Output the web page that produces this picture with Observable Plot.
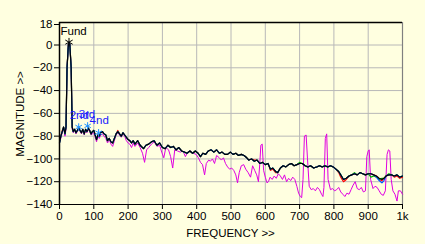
<!DOCTYPE html>
<html>
<head>
<meta charset="utf-8">
<script src="https://cdn.jsdelivr.net/npm/d3@7"></script>
<script src="https://cdn.jsdelivr.net/npm/@observablehq/plot@0.6"></script>
<style>
  html, body { margin: 0; padding: 0; background: #ffffe0; }
</style>
</head>
<body>
<div id="chart"></div>
<script>
// Axis ticks and titles
const yTicks = [18, 0, -20, -40, -60, -80, -100, -120, -140];
const xTicks = [0, 100, 200, 300, 400, 500, 600, 700, 800, 900, 1000];
const xTickLabels = ["0", "100", "200", "300", "400", "500", "600", "700", "800", "900", "1k"];
const xTitle = "FREQUENCY >>";
const yTitle = "MAGNITUDE >>";

// Frequencies shared by the black / red / green / blue traces
const freqA = [
  0,4,8,12,16,19,22,26,30,34,
  37,40,44,48,52,56,60,64,68,72,
  76,80,84,88,92,96,100,104,108,112,
  116,120,125,130,135,140,145,150,155,160,
  165,170,175,180,185,190,195,200,205,210,
  215,220,228,235,245,252,260,268,276,284,
  292,300,308,316,324,332,340,348,356,364,
  372,380,388,396,404,411,418,426,434,442,
  450,458,466,474,482,490,498,506,514,522,
  530,538,546,552,560,568,576,584,592,600,
  608,615,622,630,636,644,652,660,668,676,
  684,692,700,708,716,724,732,741,750,758,
  766,774,782,790,798,806,814,820,828,836,
  844,852,860,868,876,884,892,900,908,916,
  924,932,940,946,952,960,968,976,984,992,
  1000
];
const blackDb = [
  -86,-80,-76,-72,-78,-72,-20,1,1,-20,
  -72,-76,-74,-77,-75,-73,-75,-77,-74,-78,
  -74,-76,-73,-75,-78,-76,-75,-79,-83,-79,
  -80,-77,-76,-78,-79,-84,-82,-85,-86,-82,
  -78,-76,-78,-80,-77,-79,-81,-83,-84,-86,
  -84,-87,-84,-88,-91,-88,-87,-85,-84,-88,
  -86,-90,-91,-88,-90,-89,-92,-90,-93,-94,
  -95,-93,-95,-93,-95,-98,-95,-96,-93,-92,
  -94,-92,-95,-94,-96,-96,-94,-96,-95,-97,
  -96,-97,-99,-101,-100,-102,-101,-104,-103,-105,
  -104,-109,-108,-111,-112,-108,-106,-107,-105,-104,
  -106,-105,-104,-104,-106,-107,-106,-108,-107,-106,
  -107,-106,-107,-106,-107,-109,-111,-114,-118,-117,
  -115,-114,-113,-114,-112,-113,-114,-113,-113,-114,
  -115,-117,-118,-117,-115,-114,-114,-115,-114,-116,
  -115
];
const redDb = [
  -81,-80,-75,-72,-77,-72,-20,1,1,-20,
  -72,-75,-74,-77,-75,-73,-75,-77,-74,-78,
  -74,-76,-73,-75,-78,-76,-75,-79,-83,-79,
  -80,-77,-76,-78,-79,-84,-82,-85,-86,-82,
  -78,-75,-78,-80,-77,-79,-81,-83,-84,-86,
  -84,-87,-84,-88,-91,-88,-87,-85,-84,-88,
  -86,-90,-91,-88,-90,-89,-92,-90,-93,-94,
  -95,-93,-95,-93,-95,-98,-95,-96,-93,-92,
  -94,-92,-95,-94,-96,-96,-94,-96,-95,-97,
  -96,-97,-99,-101,-100,-101,-101,-104,-103,-105,
  -104,-110,-109,-112,-112,-108,-106,-107,-105,-104,
  -106,-105,-104,-104,-106,-107,-106,-108,-107,-106,
  -107,-106,-107,-106,-107,-109,-112,-116,-120,-118,
  -115,-114,-113,-114,-112,-113,-114,-113,-113,-114,
  -115,-118,-119,-117,-115,-114,-114,-116,-115,-117,
  -116
];
const greenDb = [
  -86,-80,-76,-72,-78,-72,-20,1,1,-20,
  -72,-76,-74,-77,-75,-73,-75,-77,-74,-78,
  -74,-76,-73,-75,-78,-76,-75,-79,-83,-79,
  -80,-77,-76,-78,-79,-84,-82,-85,-86,-82,
  -78,-76,-78,-80,-77,-79,-81,-83,-84,-86,
  -84,-87,-84,-88,-91,-88,-87,-85,-84,-88,
  -86,-90,-91,-88,-90,-89,-92,-90,-93,-94,
  -95,-93,-95,-93,-95,-98,-95,-96,-93,-92,
  -94,-92,-95,-94,-96,-96,-94,-96,-95,-97,
  -96,-97,-99,-101,-100,-102,-101,-104,-103,-105,
  -104,-109,-108,-111,-112,-108,-106,-107,-105,-104,
  -106,-105,-103,-104,-106,-107,-106,-108,-107,-106,
  -107,-106,-107,-106,-107,-109,-111,-114,-118,-117,
  -115,-114,-112,-114,-112,-113,-114,-113,-116,-115,
  -116,-118,-117,-117,-115,-113,-114,-115,-114,-116,
  -115
];
const blueDb = [
  -86,-80,-76,-72,-78,-72,-20,1,1,-20,
  -72,-76,-74,-77,-75,-73,-75,-77,-74,-78,
  -74,-76,-73,-75,-78,-76,-75,-79,-83,-79,
  -80,-77,-76,-78,-79,-84,-82,-85,-86,-82,
  -78,-76,-78,-80,-77,-79,-81,-83,-84,-86,
  -84,-87,-84,-88,-91,-88,-87,-85,-84,-88,
  -86,-90,-91,-88,-90,-89,-92,-90,-93,-94,
  -95,-93,-95,-93,-95,-98,-95,-96,-93,-92,
  -94,-92,-95,-94,-96,-96,-94,-96,-95,-97,
  -96,-97,-99,-101,-100,-102,-101,-104,-103,-105,
  -104,-109,-108,-111,-112,-108,-106,-107,-105,-104,
  -106,-105,-104,-104,-106,-107,-106,-108,-107,-106,
  -107,-106,-107,-106,-107,-109,-111,-114,-118,-117,
  -115,-114,-113,-114,-112,-113,-114,-113,-113,-114,
  -116,-119,-121,-119,-115,-114,-114,-115,-114,-116,
  -115
];

// Magenta trace
const freqM = [
  0,4,8,12,16,19,22,26,30,34,
  37,40,44,48,52,56,60,64,68,72,
  76,80,84,88,92,96,100,104,108,112,
  116,120,125,130,135,140,145,150,155,160,
  165,170,175,180,185,190,195,200,205,210,
  215,220,228,235,242,248,254,260,268,276,
  284,292,298,304,310,318,324,330,336,344,
  352,360,367,374,382,390,398,405,411,417,
  423,428,435,440,446,452,458,466,472,478,
  484,490,496,502,508,514,519,524,530,537,
  543,550,557,563,569,575,580,584,587,591,
  595,600,605,609,614,620,626,632,638,644,
  650,656,662,668,674,680,686,692,697,702,
  706,710,714,719,723,728,734,740,746,752,
  758,764,768,771,775,779,783,790,796,802,
  808,814,820,826,832,838,844,850,856,862,
  868,874,880,886,892,896,900,903,907,914,
  920,926,932,938,944,950,955,959,963,967,
  972,978,984,988,994,1000
];
const magentaDb = [
  -86,-82,-77,-73,-80,-74,-20,1,1,-20,
  -74,-77,-75,-78,-76,-74,-76,-78,-75,-79,
  -75,-77,-74,-76,-79,-78,-77,-81,-85,-80,
  -82,-79,-78,-80,-82,-86,-83,-87,-89,-84,
  -79,-77,-79,-81,-78,-80,-84,-86,-87,-90,
  -86,-89,-86,-90,-95,-103,-92,-90,-87,-85,
  -89,-88,-94,-99,-90,-92,-98,-108,-92,-93,
  -94,-93,-98,-94,-93,-95,-96,-99,-103,-105,
  -114,-104,-101,-102,-100,-104,-97,-99,-101,-99,
  -104,-107,-109,-108,-110,-114,-121,-112,-106,-105,
  -109,-112,-116,-106,-110,-114,-120,-104,-88,-87,
  -110,-116,-121,-120,-116,-118,-115,-117,-113,-115,
  -118,-114,-120,-117,-119,-116,-118,-124,-130,-133,
  -134,-118,-80,-79,-100,-124,-127,-126,-128,-125,
  -127,-131,-133,-125,-82,-78,-118,-127,-126,-128,
  -127,-125,-129,-131,-133,-130,-131,-127,-123,-120,
  -126,-127,-125,-129,-128,-98,-93,-92,-118,-126,
  -124,-125,-128,-131,-132,-128,-96,-92,-93,-118,
  -128,-131,-137,-128,-128,-131
];

// Harmonic markers
const fundFreq = [27.7];
const fundDb = [2.5];
const fundLabel = ["Fund"];
const harmFreq = [56, 82, 114];
const harmDb = [-72, -71, -77];
const harmLabel = ["2nd", "3rd", "4nd"];

const toRows = (fs, vs) => fs.map((f, i) => ({f, v: vs[i]}));
const black = toRows(freqA, blackDb);
const red = toRows(freqA, redDb);
const green = toRows(freqA, greenDb);
const blue = toRows(freqA, blueDb);
const magenta = toRows(freqM, magentaDb);
const fund = fundFreq.map((f, i) => ({f, v: fundDb[i], t: fundLabel[i]}));
const harm = harmFreq.map((f, i) => ({f, v: harmDb[i], t: harmLabel[i]}));

const W = 425, H = 244, ML = 59, MR = 23, MT = 24, MB = 40;

const chart = Plot.plot({
  width: W,
  height: H,
  marginLeft: ML,
  marginRight: MR,
  marginTop: MT,
  marginBottom: MB,
  style: {background: "#ffffe0", fontFamily: "Liberation Sans, Arial, sans-serif", fontSize: "11.5px", color: "black"},
  x: {domain: [0, 1000], ticks: xTicks, tickFormat: d => xTickLabels[xTicks.indexOf(d)], tickSize: 5, tickPadding: 2, label: null},
  y: {domain: [-140, 18], ticks: yTicks, tickSize: 5, tickPadding: 2, label: null},
  marks: [
    Plot.ruleY(yTicks.filter(d => d > -140 && d < 18), {stroke: "#b8b8b8", strokeWidth: 1}),
    Plot.ruleX(xTicks.filter(d => d > 0 && d < 1000), {stroke: "#b8b8b8", strokeWidth: 1, insetTop: -2}),
    Plot.ruleX([1000], {stroke: "#808080", strokeWidth: 1.2, insetTop: -2}),
    Plot.line(magenta, {x: "f", y: "v", stroke: "#e000e0", strokeWidth: 1}),
    Plot.line(red, {x: "f", y: "v", stroke: "#ff0000", strokeWidth: 1.2}),
    Plot.line(green, {x: "f", y: "v", stroke: "#00b000", strokeWidth: 1.2}),
    Plot.line(blue, {x: "f", y: "v", stroke: "#0050ff", strokeWidth: 1.2}),
    Plot.line(black, {x: "f", y: "v", stroke: "black", strokeWidth: 1.1}),
    Plot.ruleY([18], {stroke: "black", strokeWidth: 1.5, dy: -2}),
    Plot.ruleX([0], {stroke: "black", strokeWidth: 1.5, insetTop: -2}),
    Plot.ruleY([-140], {stroke: "black", strokeWidth: 1.2}),
    Plot.dot(fund, {x: "f", y: "v", symbol: "asterisk", r: 4, stroke: "black", strokeWidth: 1}),
    Plot.text(fund, {x: "f", y: "v", text: "t", dx: -8.5, dy: -11, textAnchor: "start", fill: "black", fontSize: 11.5}),
    Plot.dot(harm, {x: "f", y: "v", symbol: "asterisk", r: 3.5, stroke: "#1e90ff", strokeWidth: 1}),
    Plot.text(harm, {x: "f", y: "v", text: "t", dx: -9, dy: -12, textAnchor: "start", fill: "#1a1aff", fontSize: 11.5})
  ]
});

// Axis titles (plain text, no arrows)
const svg = d3.select(chart);
svg.append("text")
  .attr("x", ML + (W - ML - MR) / 2)
  .attr("y", H - 7)
  .attr("text-anchor", "middle")
  .attr("fill", "black")
  .attr("font-size", "11.5px")
  .text(xTitle);
svg.append("text")
  .attr("transform", `translate(24,${MT + (H - MT - MB) / 2}) rotate(-90)`)
  .attr("text-anchor", "middle")
  .attr("fill", "black")
  .attr("font-size", "11.5px")
  .text(yTitle);

document.getElementById("chart").appendChild(chart);
</script>
</body>
</html>
